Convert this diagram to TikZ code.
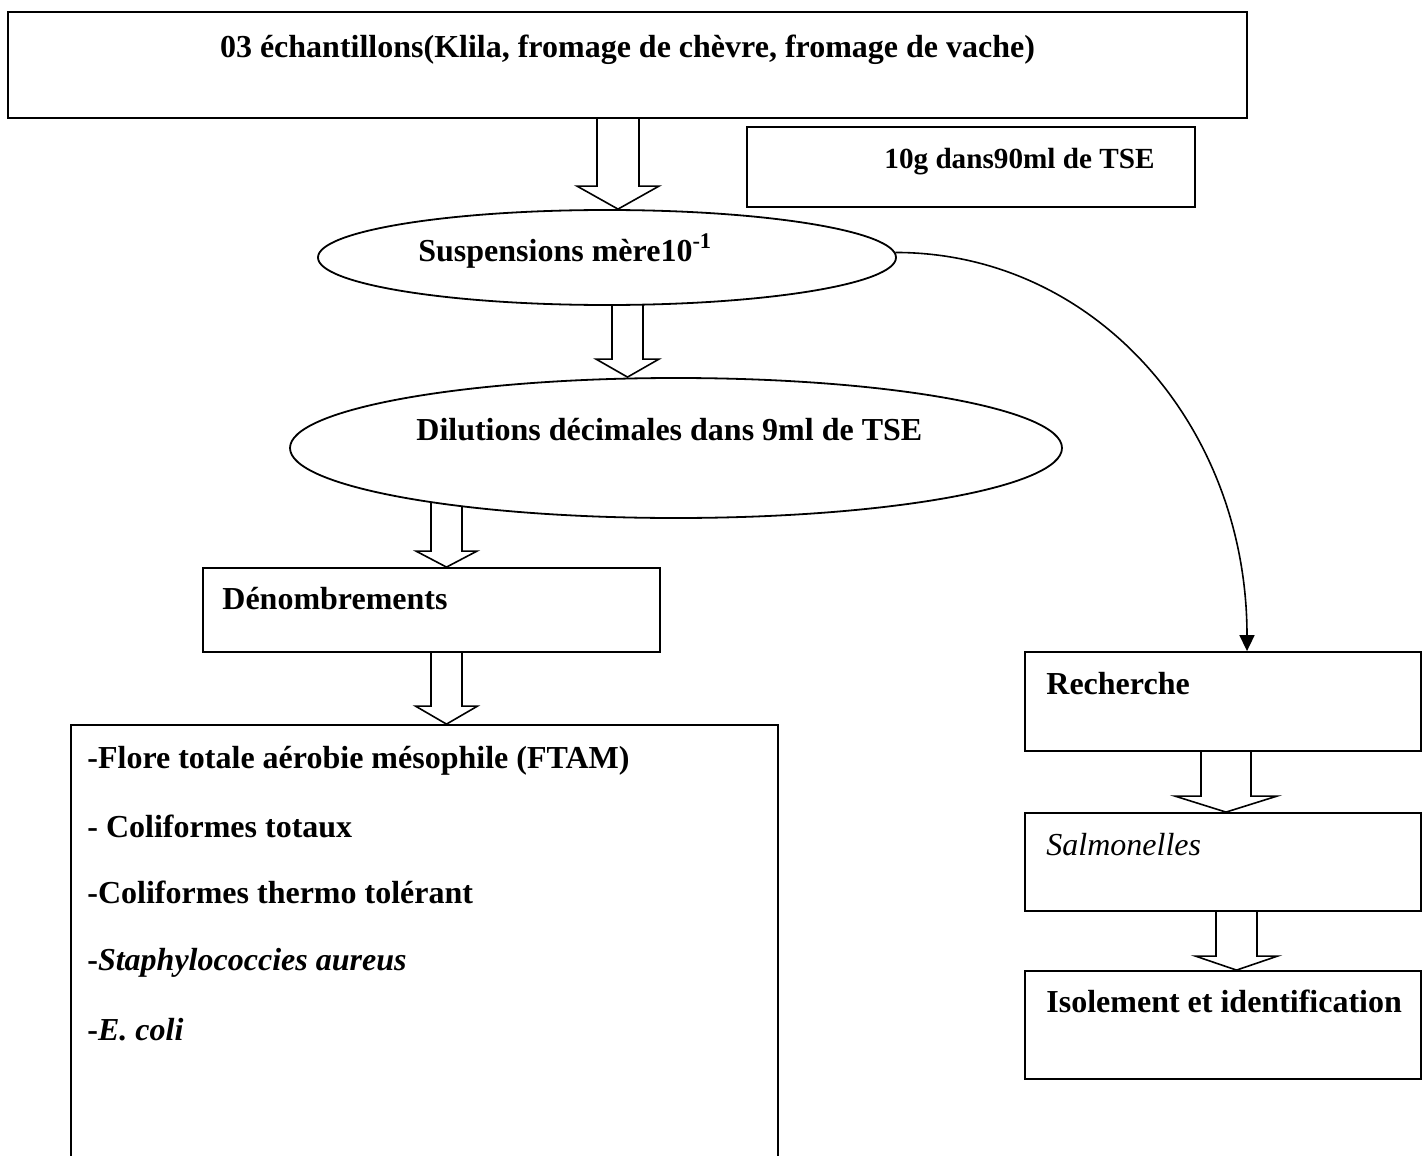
\documentclass[tikz,border=0pt]{standalone}
\usepackage{fontspec}
\setmainfont{Liberation Serif}
\usetikzlibrary{shapes.geometric, arrows.meta, backgrounds, calc, fit}
\tikzset{
    box/.style={rectangle, draw, line width=0.9pt, fill=white, inner sep=0pt},
    oval/.style={ellipse, draw, line width=0.9pt, fill=white, inner sep=0pt},
    txt/.style={anchor=base west, inner sep=0pt, font=\fontsize{16}{19}\selectfont\bfseries},
    fatarrow/.style={draw, line width=0.8pt, fill=white, line join=miter},
    curvearrow/.style={-{Triangle[length=8pt,width=7.5pt]}, line width=0.8pt}
}
% x in px, from, to, shaft half width, head half width, head length
\newcommand{\fatarrow}[6]{%
    \draw[fatarrow] let \p1=(#2), \p2=(#3) in
        ({#1*0.5pt-#4},\y1) -- ({#1*0.5pt-#4},{\y2+#6}) -- ({#1*0.5pt-#5},{\y2+#6})
        -- ({#1*0.5pt},\y2) -- ({#1*0.5pt+#5},{\y2+#6}) -- ({#1*0.5pt+#4},{\y2+#6})
        -- ({#1*0.5pt+#4},\y1);}

\begin{document}
\begin{tikzpicture}[x=0.5pt, y=-0.5pt]
    \useasboundingbox (0,0) rectangle (1424,1156);

    % samples
    \node[box, fit={(8,12) (1247,118)}] (sample) {};
    \node[txt, anchor=base] (sampletxt) at (627.5,58) {03 échantillons(Klila, fromage de chèvre, fromage de vache)};
    \node[box, fit={(747,127) (1195,207)}] (tse) {};
    \node[txt, font=\fontsize{14.6}{17}\selectfont\bfseries] (tsetxt) at (884,169) {10g dans90ml de TSE};

    % suspensions and dilutions
    \node[oval, minimum width=289pt, minimum height=47.5pt] (susp) at (607,257.5) {};
    \node[txt] (susptxt) at (418,261) {Suspensions mère10\textsuperscript{-1}};
    \node[oval, minimum width=386pt, minimum height=70pt] (dil) at (676,448) {};
    \node[txt] (diltxt) at (416,440) {Dilutions décimales dans 9ml de TSE};

    % left branch
    \node[box, fit={(203,568) (660,652)}] (denomb) {};
    \node[txt] (denombtxt) at (222,609) {Dénombrements};
    \node[box, fit={(71,725) (778,1200)}] (flore) {};
    \foreach \y/\t [count=\i] in {768/{-Flore totale aérobie mésophile (FTAM)},
                                  837/{- Coliformes totaux},
                                  903/{-Coliformes thermo tolérant},
                                  970/{-\textit{Staphylococcies aureus}},
                                  1040/{-\textit{E. coli}}}
        \node[txt] (item\i) at (87,\y) {\t};

    % right branch
    \node[box, fit={(1025,652) (1421,751)}] (rech) {};
    \node[txt] (rechtxt) at (1046,694) {Recherche};
    \node[box, fit={(1025,813) (1421,911)}] (salm) {};
    \node[txt] (salmtxt) at (1046,855) {\mdseries\itshape Salmonelles};
    \node[box, fit={(1025,971) (1421,1079)}] (isol) {};
    \node[txt] (isoltxt) at (1046,1012) {Isolement et identification};

    \coordinate (cs) at (susp.1.5);
    \coordinate (ce) at ([xshift=12pt]rech.north);
    \draw[curvearrow] (cs) .. controls ($(cs)+(200,0)$) and ($(ce)+(0,-225)$) .. (ce);

    \begin{scope}[on background layer]
        \fatarrow{618}{sample.center}{susp.north}{10.5pt}{20.5pt}{11.5pt}
        \fatarrow{627.5}{susp.center}{dil.north}{7.75pt}{15.75pt}{9pt}
        \fatarrow{446.5}{dil.center}{denomb.north}{7.75pt}{15.25pt}{8pt}
        \fatarrow{446.5}{denomb.center}{flore.north}{7.75pt}{15.5pt}{9pt}
        \fatarrow{1226}{rech.center}{salm.north}{12.5pt}{25.5pt}{8pt}
        \fatarrow{1236.5}{salm.center}{isol.north}{10.25pt}{20.5pt}{7pt}
    \end{scope}
\end{tikzpicture}
\end{document}
